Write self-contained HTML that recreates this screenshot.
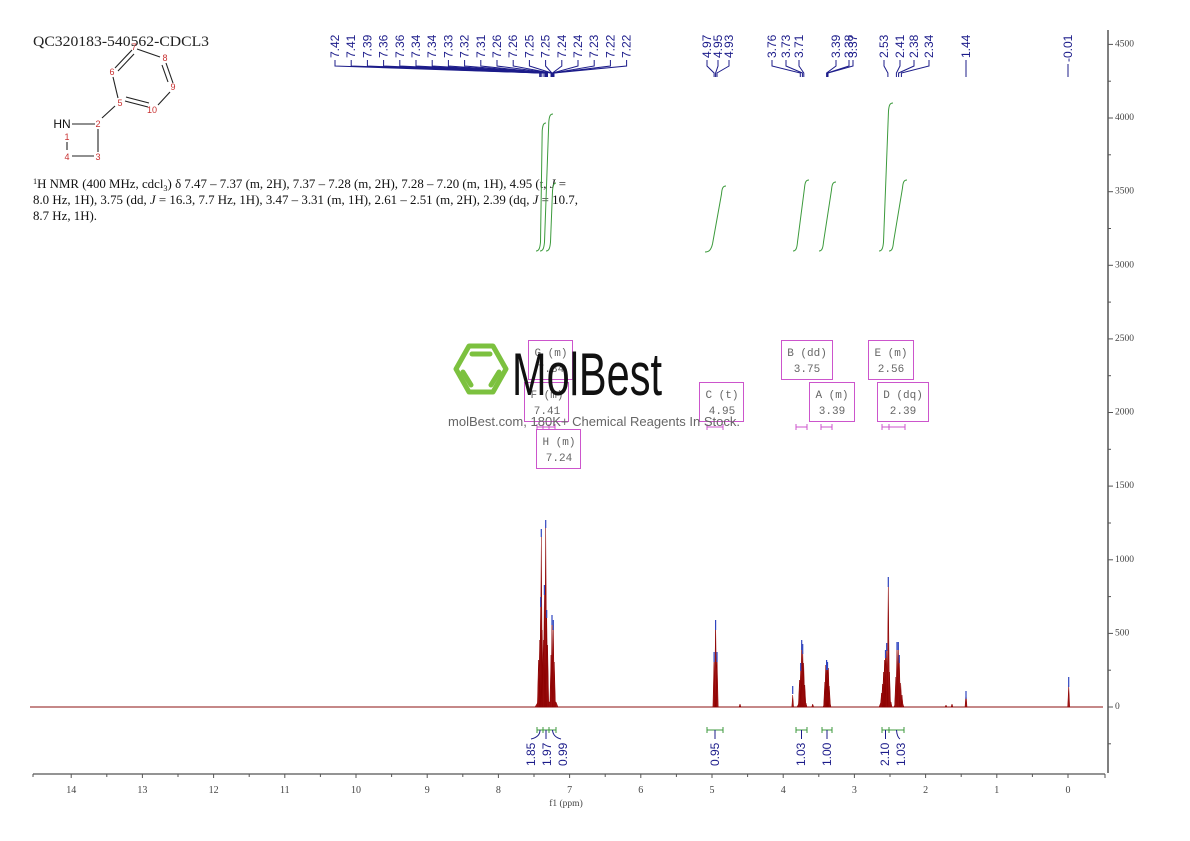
<!DOCTYPE html>
<html>
<head>
<meta charset="utf-8">
<style>
html,body{margin:0;padding:0;background:#fff;}
svg{display:block;}
</style>
</head>
<body>
<svg width="1190" height="841" viewBox="0 0 1190 841" xmlns="http://www.w3.org/2000/svg">
<rect width="1190" height="841" fill="#fff"/>

<!-- Title -->
<text x="33" y="46" font-family="Liberation Serif, serif" font-size="15" fill="#222" textLength="176" lengthAdjust="spacingAndGlyphs">QC320183-540562-CDCL3</text>

<!-- Molecule -->
<g stroke="#222" stroke-width="1.1" fill="none">
  <line x1="137" y1="49" x2="160" y2="57"/>
  <line x1="166" y1="63" x2="173" y2="83"/>
  <line x1="162" y1="65" x2="168" y2="82"/>
  <line x1="170" y1="92" x2="158" y2="105"/>
  <line x1="125" y1="101" x2="148" y2="107"/>
  <line x1="126" y1="97" x2="149" y2="103"/>
  <line x1="118" y1="98" x2="113" y2="77"/>
  <line x1="115" y1="68" x2="132" y2="50"/>
  <line x1="118" y1="71" x2="134" y2="54"/>
  <line x1="115" y1="106" x2="102" y2="118"/>
  <line x1="72" y1="124" x2="95" y2="124"/>
  <line x1="98" y1="129" x2="98" y2="152"/>
  <line x1="72" y1="156" x2="94" y2="156"/>
  <line x1="67" y1="142" x2="67" y2="150"/>
</g>
<g font-family="Liberation Sans, sans-serif" font-size="9" fill="#c83030" text-anchor="middle" dominant-baseline="central">
  <text x="134" y="47">7</text>
  <text x="165" y="58">8</text>
  <text x="173" y="87">9</text>
  <text x="152" y="110">10</text>
  <text x="120" y="103">5</text>
  <text x="112" y="72">6</text>
  <text x="98" y="124">2</text>
  <text x="67" y="137">1</text>
  <text x="67" y="157">4</text>
  <text x="98" y="157">3</text>
</g>
<text x="62" y="124" font-family="Liberation Sans, sans-serif" font-size="12" fill="#111" text-anchor="middle" dominant-baseline="central">HN</text>

<!-- NMR description -->
<g font-family="Liberation Serif, serif" font-size="12.5" fill="#111">
  <text x="33" y="188" textLength="533" lengthAdjust="spacingAndGlyphs"><tspan font-size="8" dy="-4">1</tspan><tspan dy="4">H NMR (400 MHz, cdcl</tspan><tspan font-size="8" dy="3">3</tspan><tspan dy="-3">) δ 7.47 – 7.37 (m, 2H), 7.37 – 7.28 (m, 2H), 7.28 – 7.20 (m, 1H), 4.95 (t, </tspan><tspan font-style="italic">J</tspan><tspan> =</tspan></text>
  <text x="33" y="204" textLength="545" lengthAdjust="spacingAndGlyphs">8.0 Hz, 1H), 3.75 (dd, <tspan font-style="italic">J</tspan> = 16.3, 7.7 Hz, 1H), 3.47 – 3.31 (m, 1H), 2.61 – 2.51 (m, 2H), 2.39 (dq, <tspan font-style="italic">J</tspan> = 10.7,</text>
  <text x="33" y="220" textLength="64" lengthAdjust="spacingAndGlyphs">8.7 Hz, 1H).</text>
</g>

<!-- Top peak labels -->
<g font-family="Liberation Sans, sans-serif" font-size="12" fill="#1c1c8a" dominant-baseline="central">
  <text transform="translate(335,58) rotate(-90)">7.42</text>
  <text transform="translate(351.2,58) rotate(-90)">7.41</text>
  <text transform="translate(367.4,58) rotate(-90)">7.39</text>
  <text transform="translate(383.6,58) rotate(-90)">7.36</text>
  <text transform="translate(399.8,58) rotate(-90)">7.36</text>
  <text transform="translate(416,58) rotate(-90)">7.34</text>
  <text transform="translate(432.2,58) rotate(-90)">7.34</text>
  <text transform="translate(448.4,58) rotate(-90)">7.33</text>
  <text transform="translate(464.6,58) rotate(-90)">7.32</text>
  <text transform="translate(480.8,58) rotate(-90)">7.31</text>
  <text transform="translate(497,58) rotate(-90)">7.26</text>
  <text transform="translate(513.2,58) rotate(-90)">7.26</text>
  <text transform="translate(529.4,58) rotate(-90)">7.25</text>
  <text transform="translate(545.6,58) rotate(-90)">7.25</text>
  <text transform="translate(561.8,58) rotate(-90)">7.24</text>
  <text transform="translate(578,58) rotate(-90)">7.24</text>
  <text transform="translate(594.2,58) rotate(-90)">7.23</text>
  <text transform="translate(610.4,58) rotate(-90)">7.22</text>
  <text transform="translate(626.6,58) rotate(-90)">7.22</text>

  <text transform="translate(707,58) rotate(-90)">4.97</text>
  <text transform="translate(718,58) rotate(-90)">4.95</text>
  <text transform="translate(729,58) rotate(-90)">4.93</text>
  <text transform="translate(772,58) rotate(-90)">3.76</text>
  <text transform="translate(786,58) rotate(-90)">3.73</text>
  <text transform="translate(799,58) rotate(-90)">3.71</text>
  <text transform="translate(836,58) rotate(-90)">3.39</text>
  <text transform="translate(849,58) rotate(-90)">3.38</text>
  <text transform="translate(853,58) rotate(-90)">3.37</text>
  <text transform="translate(884,58) rotate(-90)">2.53</text>
  <text transform="translate(900,58) rotate(-90)">2.41</text>
  <text transform="translate(914,58) rotate(-90)">2.38</text>
  <text transform="translate(929,58) rotate(-90)">2.34</text>
  <text transform="translate(966,58) rotate(-90)">1.44</text>
  <text transform="translate(1068,62) rotate(-90)">-0.01</text>
</g>
<g stroke="#1c1c8a" stroke-width="1" fill="none">
  <path d="M335,60V66L539.7,73V77"/>
  <path d="M351.2,60V66L540.4,73V77"/>
  <path d="M367.4,60V66L541.8,73V77"/>
  <path d="M383.6,60V66L544,73V77"/>
  <path d="M399.8,60V66L544,73V77"/>
  <path d="M416,60V66L545.4,73V77"/>
  <path d="M432.2,60V66L545.4,73V77"/>
  <path d="M448.4,60V66L546.1,73V77"/>
  <path d="M464.6,60V66L546.8,73V77"/>
  <path d="M480.8,60V66L547.5,73V77"/>
  <path d="M497,60V66L551.1,73V77"/>
  <path d="M513.2,60V66L551.1,73V77"/>
  <path d="M529.4,60V66L551.8,73V77"/>
  <path d="M545.6,60V66L551.8,73V77"/>
  <path d="M561.8,60V66L552.5,73V77"/>
  <path d="M578,60V66L552.5,73V77"/>
  <path d="M594.2,60V66L553.2,73V77"/>
  <path d="M610.4,60V66L553.9,73V77"/>
  <path d="M626.6,60V66L553.9,73V77"/>

  <path d="M707,60V66L714.1,73V77"/>
  <path d="M718,60V66L715.6,73V77"/>
  <path d="M729,60V66L717,73V77"/>
  <path d="M772,60V66L800.3,73V77"/>
  <path d="M786,60V66L802.4,73V77"/>
  <path d="M799,60V66L803.8,73V77"/>
  <path d="M836,60V66L826.6,73V77"/>
  <path d="M849,60V66L827.3,73V77"/>
  <path d="M853,60V66L828,73V77"/>
  <path d="M884,60V66L887.9,73V77"/>
  <path d="M900,60V66L896.4,73V77"/>
  <path d="M914,60V66L898.6,73V77"/>
  <path d="M929,60V66L901.4,73V77"/>
  <path d="M966,60V77"/>
  <path d="M1068,64V77"/>
</g>

<!-- Integral curves -->
<g stroke="#3c9a3c" stroke-width="1" fill="none">
  <path d="M536,251C539,251 540,248 540.5,242L542.2,131C542.7,125 543.5,123 546,123"/>
  <path d="M540,251C543,251 544,248 544.5,242L548.8,122C549.3,116 550.2,114 553,114"/>
  <path d="M546,251C549,251 550,248 550.5,242L552.5,191C553,185 553.8,183 556,183"/>
  <path d="M705,252C709,252 711,250 712.5,244L721.5,194C722,188 723,186 726,186"/>
  <path d="M793,251C796,251 797,248 797.5,242L804.5,188C805,182 806,180 809,180"/>
  <path d="M819,251C822,251 823,248 823.5,242L831.5,190C832,184 833,182 836,182"/>
  <path d="M879,251C882,251 883,248 883.5,242L888.5,111C889,105 890,103 893,103"/>
  <path d="M889,251C892,251 893,248 893.5,242L902.5,188C903,182 904,180 907,180"/>
</g>

<!-- Multiplet boxes -->
<g stroke="#cc55cc" stroke-width="1" fill="none">
  <rect x="528.5" y="340.5" width="44" height="39"/>
  <rect x="524.5" y="382.5" width="44" height="39"/>
  <rect x="536.5" y="429.5" width="44" height="39"/>
  <rect x="699.5" y="382.5" width="44" height="39"/>
  <rect x="781.5" y="340.5" width="51" height="39"/>
  <rect x="809.5" y="382.5" width="45" height="39"/>
  <rect x="868.5" y="340.5" width="45" height="39"/>
  <rect x="877.5" y="382.5" width="51" height="39"/>
  <path d="M537,424V430M537,427H555M543,424V430M549,424V430M555,424V430"/>
  <path d="M707,424V430M707,427H723M723,424V430"/>
  <path d="M796,424V430M796,427H807M807,424V430"/>
  <path d="M821,424V430M821,427H832M832,424V430"/>
  <path d="M882,424V430M882,427H905M889,424V430M905,424V430"/>
</g>
<g font-family="Liberation Mono, monospace" font-size="11" fill="#666" text-anchor="middle" xml:space="preserve">
  <text x="551" y="356">G (m)</text><text x="551" y="372">7.34</text>
  <text x="547" y="398">F (m)</text><text x="547" y="414">7.41</text>
  <text x="559" y="445">H (m)</text><text x="559" y="461">7.24</text>
  <text x="722" y="398">C (t)</text><text x="722" y="414">4.95</text>
  <text x="807" y="356">B (dd)</text><text x="807" y="372">3.75</text>
  <text x="832" y="398">A (m)</text><text x="832" y="414">3.39</text>
  <text x="891" y="356">E (m)</text><text x="891" y="372">2.56</text>
  <text x="903" y="398">D (dq)</text><text x="903" y="414">2.39</text>
</g>

<!-- Watermark -->
<g stroke="#7cc13f" stroke-width="5" fill="none" stroke-linejoin="round" stroke-linecap="round">
  <polygon points="456,369 469,346 493,346 506,369 493,392 469,392"/>
  <line x1="472" y1="354" x2="490" y2="354"/>
  <line x1="463" y1="372" x2="471" y2="385"/>
  <line x1="499" y1="372" x2="491" y2="385"/>
</g>
<text x="512" y="395" font-family="Liberation Sans, sans-serif" font-size="60" fill="#111" textLength="150" lengthAdjust="spacingAndGlyphs">MolBest</text>
<text x="448" y="426" font-family="Liberation Sans, sans-serif" font-size="13" fill="#666" textLength="292" lengthAdjust="spacingAndGlyphs">molBest.com, 180K+ Chemical Reagents In Stock.</text>

<!-- Spectrum -->
<line x1="30" y1="707" x2="1103" y2="707" stroke="#8b1010" stroke-width="1"/>
<g fill="#a31515" stroke="#8b0000" stroke-width="0.5">
  <path d="M535,707L538,702L556,702L558,707Z"/>
  <path d="M537.3,707L538.5,660L539.7,707Z M538.5,707L539.7,640L540.9,707Z M539.5,707L540.7,600L541.9,707Z M540.1,707L541.3,537L542.5,707Z M541,707L542.2,630L543.4,707Z M542.3,707L543.5,640L544.7,707Z M543.2,707L544.4,588L545.6,707Z M544.5,707L545.7,525L546.9,707Z M545.5,707L546.7,613L547.9,707Z M546.4,707L547.6,645L548.8,707Z M549.8,707L551,655L552.2,707Z M550.8,707L552,620L553.2,707Z M552.1,707L553.3,625L554.5,707Z M553.1,707L554.3,662L555.5,707Z"/>
  <path d="M712.9,707L714.1,655L715.3,707Z M714.4,707L715.6,620L716.8,707Z M715.8,707L717,655L718.2,707Z"/>
  <path d="M791.8,707L792.7,695L793.6,707Z"/>
  <path d="M797,707L799,703L806,703L807,707Z"/>
  <path d="M798.3,707L799.5,680L800.7,707Z M799.5,707L800.7,667L801.9,707Z M800.5,707L801.7,643L802.9,707Z M801.5,707L802.7,647L803.9,707Z M802.5,707L803.7,663L804.9,707Z M803.6,707L804.8,685L806,707Z"/>
  <path d="M811.7,707L812.7,704L813.7,707Z"/>
  <path d="M823,707L825,703L830,703L831,707Z"/>
  <path d="M823.6,707L824.8,682L826,707Z M824.5,707L825.7,665L826.9,707Z M825.4,707L826.6,663L827.8,707Z M826.3,707L827.5,664L828.7,707Z M827.2,707L828.4,668L829.6,707Z M828.1,707L829.3,686L830.5,707Z"/>
  <path d="M879,707L881,702L891,702L892,707Z"/>
  <path d="M880.3,707L881.5,693L882.7,707Z M881.3,707L882.5,684L883.7,707Z M882.3,707L883.5,672L884.7,707Z M883.3,707L884.5,660L885.7,707Z M884.3,707L885.5,653L886.7,707Z M885.5,707L886.7,645L887.9,707Z M887.1,707L888.3,580L889.5,707Z M888.3,707L889.5,672L890.7,707Z"/>
  <path d="M894,707L896,702L902,702L904,707Z"/>
  <path d="M894.6,707L895.8,677L897,707Z M895.8,707L897,645L898.2,707Z M897.1,707L898.3,645L899.5,707Z M898.1,707L899.3,658L900.5,707Z M899.5,707L900.7,683L901.9,707Z M900.8,707L902,695L903.2,707Z"/>
  <path d="M965,707L966,693L967,707Z"/>
  <path d="M1067.7,707L1068.7,685L1069.7,707Z"/>
  <path d="M739,707L740,704L741,707Z M945,707L946,705L947,707Z M951,707L952,704L953,707Z"/>
</g>
<!-- peak markers -->
<g stroke="#2f45c0" stroke-width="1.2">
  <line x1="541.3" y1="529" x2="541.3" y2="537"/>
  <line x1="545.7" y1="520" x2="545.7" y2="528"/>
  <line x1="540.7" y1="597" x2="540.7" y2="607"/>
  <line x1="544.4" y1="585" x2="544.4" y2="595"/>
  <line x1="546.7" y1="610" x2="546.7" y2="618"/>
  <line x1="552" y1="615" x2="552" y2="625"/>
  <line x1="553.3" y1="620" x2="553.3" y2="630"/>
  <line x1="715.6" y1="620" x2="715.6" y2="630"/>
  <line x1="714.1" y1="652" x2="714.1" y2="662"/>
  <line x1="717" y1="652" x2="717" y2="662"/>
  <line x1="792.7" y1="686" x2="792.7" y2="694"/>
  <line x1="800.7" y1="663" x2="800.7" y2="671"/>
  <line x1="801.7" y1="640" x2="801.7" y2="650"/>
  <line x1="802.7" y1="644" x2="802.7" y2="654"/>
  <line x1="826.6" y1="660" x2="826.6" y2="670"/>
  <line x1="827.5" y1="662" x2="827.5" y2="670"/>
  <line x1="888.3" y1="577" x2="888.3" y2="587"/>
  <line x1="886.7" y1="643" x2="886.7" y2="651"/>
  <line x1="885.5" y1="650" x2="885.5" y2="658"/>
  <line x1="897" y1="642" x2="897" y2="650"/>
  <line x1="898.3" y1="642" x2="898.3" y2="650"/>
  <line x1="899.3" y1="655" x2="899.3" y2="663"/>
  <line x1="966" y1="691" x2="966" y2="699"/>
  <line x1="1068.7" y1="677" x2="1068.7" y2="687"/>
</g>

<!-- Integral brackets below -->
<g stroke="#3c9a3c" stroke-width="1" fill="none">
  <path d="M537,727V733M537,730H556M543,727V733M549,727V733M556,727V733"/>
  <path d="M707,727V733M707,730H723M723,727V733"/>
  <path d="M796,727V733M796,730H807M807,727V733"/>
  <path d="M822,727V733M822,730H832M832,727V733"/>
  <path d="M882,727V733M882,730H904M889,727V733M904,727V733"/>
</g>
<g stroke="#1c1c8a" stroke-width="1" fill="none">
  <path d="M540,730Q540,737 531,739"/>
  <path d="M546,730V739"/>
  <path d="M552.5,730Q553,737 561,739"/>
  <path d="M715,730V739"/>
  <path d="M801.5,730V739"/>
  <path d="M827,730V739"/>
  <path d="M885.5,730V739"/>
  <path d="M896.5,730Q897,737 900,739"/>
</g>
<g font-family="Liberation Sans, sans-serif" font-size="12" fill="#1c1c8a" dominant-baseline="central">
  <text transform="translate(531,766) rotate(-90)">1.85</text>
  <text transform="translate(547,766) rotate(-90)">1.97</text>
  <text transform="translate(563,766) rotate(-90)">0.99</text>
  <text transform="translate(715,766) rotate(-90)">0.95</text>
  <text transform="translate(801,766) rotate(-90)">1.03</text>
  <text transform="translate(827,766) rotate(-90)">1.00</text>
  <text transform="translate(885,766) rotate(-90)">2.10</text>
  <text transform="translate(901,766) rotate(-90)">1.03</text>
</g>

<!-- Right Y axis -->
<line x1="1108" y1="30" x2="1108" y2="773" stroke="#555" stroke-width="1.5"/>
<g stroke="#555" stroke-width="1">
  <line x1="1108" y1="44.4" x2="1113" y2="44.4"/>
  <line x1="1108" y1="118" x2="1113" y2="118"/>
  <line x1="1108" y1="191.7" x2="1113" y2="191.7"/>
  <line x1="1108" y1="265.3" x2="1113" y2="265.3"/>
  <line x1="1108" y1="338.9" x2="1113" y2="338.9"/>
  <line x1="1108" y1="412.5" x2="1113" y2="412.5"/>
  <line x1="1108" y1="486.1" x2="1113" y2="486.1"/>
  <line x1="1108" y1="559.8" x2="1113" y2="559.8"/>
  <line x1="1108" y1="633.4" x2="1113" y2="633.4"/>
  <line x1="1108" y1="707" x2="1113" y2="707"/>
  <line x1="1108" y1="81.2" x2="1111" y2="81.2"/>
  <line x1="1108" y1="154.8" x2="1111" y2="154.8"/>
  <line x1="1108" y1="228.5" x2="1111" y2="228.5"/>
  <line x1="1108" y1="302.1" x2="1111" y2="302.1"/>
  <line x1="1108" y1="375.7" x2="1111" y2="375.7"/>
  <line x1="1108" y1="449.3" x2="1111" y2="449.3"/>
  <line x1="1108" y1="523" x2="1111" y2="523"/>
  <line x1="1108" y1="596.6" x2="1111" y2="596.6"/>
  <line x1="1108" y1="670.2" x2="1111" y2="670.2"/>
  <line x1="1108" y1="743.8" x2="1111" y2="743.8"/>
</g>
<g font-family="Liberation Serif, serif" font-size="9.5" fill="#444" dominant-baseline="central">
  <text x="1115" y="44.4">4500</text>
  <text x="1115" y="118">4000</text>
  <text x="1115" y="191.7">3500</text>
  <text x="1115" y="265.3">3000</text>
  <text x="1115" y="338.9">2500</text>
  <text x="1115" y="412.5">2000</text>
  <text x="1115" y="486.1">1500</text>
  <text x="1115" y="559.8">1000</text>
  <text x="1115" y="633.4">500</text>
  <text x="1115" y="707">0</text>
</g>

<!-- X axis -->
<line x1="33" y1="774" x2="1105" y2="774" stroke="#555" stroke-width="1.2"/>
<g stroke="#555" stroke-width="1">
  <line x1="33" y1="774" x2="33" y2="777"/>
  <line x1="1105" y1="774" x2="1105" y2="778"/>
  <line x1="71.2" y1="774" x2="71.2" y2="778"/>
  <line x1="142.4" y1="774" x2="142.4" y2="778"/>
  <line x1="213.6" y1="774" x2="213.6" y2="778"/>
  <line x1="284.8" y1="774" x2="284.8" y2="778"/>
  <line x1="356" y1="774" x2="356" y2="778"/>
  <line x1="427.2" y1="774" x2="427.2" y2="778"/>
  <line x1="498.4" y1="774" x2="498.4" y2="778"/>
  <line x1="569.6" y1="774" x2="569.6" y2="778"/>
  <line x1="640.8" y1="774" x2="640.8" y2="778"/>
  <line x1="712" y1="774" x2="712" y2="778"/>
  <line x1="783.2" y1="774" x2="783.2" y2="778"/>
  <line x1="854.4" y1="774" x2="854.4" y2="778"/>
  <line x1="925.6" y1="774" x2="925.6" y2="778"/>
  <line x1="996.8" y1="774" x2="996.8" y2="778"/>
  <line x1="1068" y1="774" x2="1068" y2="778"/>
  <line x1="106.8" y1="774" x2="106.8" y2="777"/>
  <line x1="178" y1="774" x2="178" y2="777"/>
  <line x1="249.2" y1="774" x2="249.2" y2="777"/>
  <line x1="320.4" y1="774" x2="320.4" y2="777"/>
  <line x1="391.6" y1="774" x2="391.6" y2="777"/>
  <line x1="462.8" y1="774" x2="462.8" y2="777"/>
  <line x1="534" y1="774" x2="534" y2="777"/>
  <line x1="605.2" y1="774" x2="605.2" y2="777"/>
  <line x1="676.4" y1="774" x2="676.4" y2="777"/>
  <line x1="747.6" y1="774" x2="747.6" y2="777"/>
  <line x1="818.8" y1="774" x2="818.8" y2="777"/>
  <line x1="890" y1="774" x2="890" y2="777"/>
  <line x1="961.2" y1="774" x2="961.2" y2="777"/>
  <line x1="1032.4" y1="774" x2="1032.4" y2="777"/>
</g>
<g font-family="Liberation Serif, serif" font-size="10" fill="#444" text-anchor="middle">
  <text x="71.2" y="793">14</text>
  <text x="142.4" y="793">13</text>
  <text x="213.6" y="793">12</text>
  <text x="284.8" y="793">11</text>
  <text x="356" y="793">10</text>
  <text x="427.2" y="793">9</text>
  <text x="498.4" y="793">8</text>
  <text x="569.6" y="793">7</text>
  <text x="640.8" y="793">6</text>
  <text x="712" y="793">5</text>
  <text x="783.2" y="793">4</text>
  <text x="854.4" y="793">3</text>
  <text x="925.6" y="793">2</text>
  <text x="996.8" y="793">1</text>
  <text x="1068" y="793">0</text>
</g>
<text x="566" y="806" font-family="Liberation Serif, serif" font-size="9.5" fill="#444" text-anchor="middle">f1 (ppm)</text>

</svg>
</body>
</html>
